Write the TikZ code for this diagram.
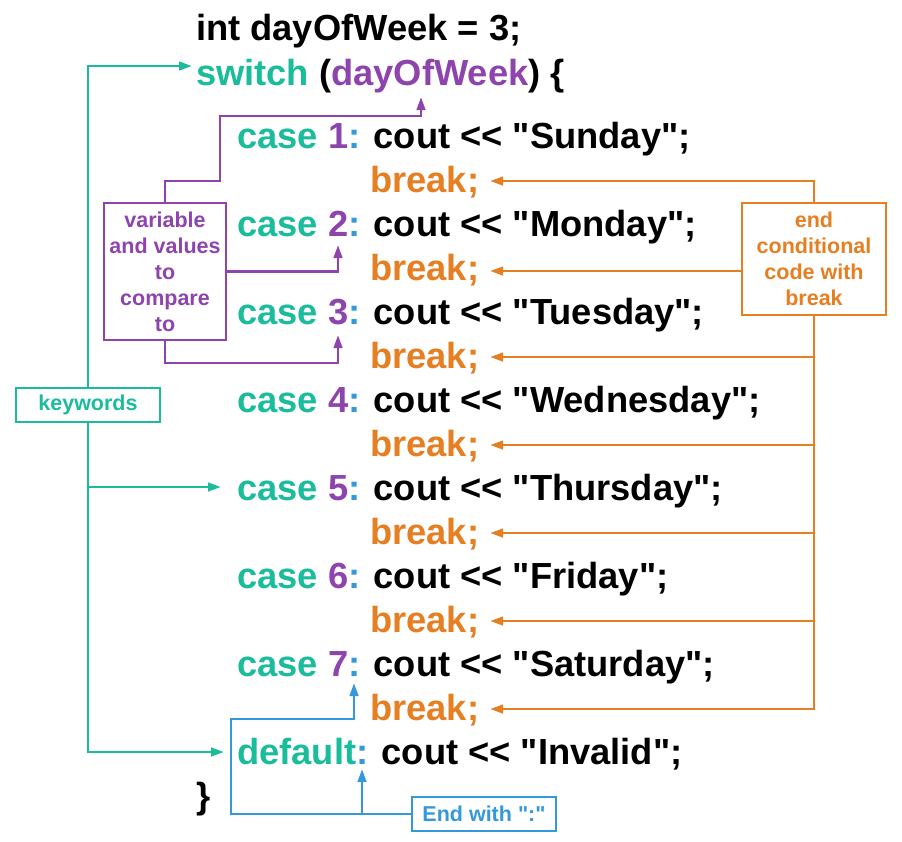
\documentclass[tikz,border=0pt]{standalone}
\usepackage{fontspec}
\newfontfamily\cf{Liberation Sans}
\usetikzlibrary{arrows.meta}
\definecolor{kw}{HTML}{1ABC9C}
\definecolor{vr}{HTML}{8E44AD}
\definecolor{cl}{HTML}{3498DB}
\definecolor{br}{HTML}{E67E22}
\newcommand\cs[2]{\textcolor{kw}{case} \textcolor{vr}{#1}\textcolor{cl}{:} cout << "#2";}
\begin{document}
\begin{tikzpicture}[x=1pt,y=-1pt,
  code/.style={anchor=base west,inner sep=0pt,font=\cf\fontsize{36.3}{40}\selectfont\bfseries},
  lab/.style={draw,line width=2.7pt,align=center,inner sep=0pt,font=\cf\fontsize{21.5}{26}\selectfont\bfseries},
  conn/.style={line width=2.7pt,-{Triangle[length=13pt,width=8.5pt]}}]
\useasboundingbox (0,0) rectangle (902,841);
% code lines
\node[code] (l0) at (196,40) {int dayOfWeek = 3;};
\node[code] (l1) at (196,85) {\textcolor{kw}{switch} (\textcolor{vr}{dayOfWeek}) \{};
\node[code] (c1) at (237,148) {\cs{1}{Sunday}};
\node[code,text=br] (b1) at (370,192) {break;};
\node[code] (c2) at (237,236) {\cs{2}{Monday}};
\node[code,text=br] (b2) at (370,280) {break;};
\node[code] (c3) at (237,324) {\cs{3}{Tuesday}};
\node[code,text=br] (b3) at (370,368) {break;};
\node[code] (c4) at (237,412) {\cs{4}{Wednesday}};
\node[code,text=br] (b4) at (370,456) {break;};
\node[code] (c5) at (237,500) {\cs{5}{Thursday}};
\node[code,text=br] (b5) at (370,544) {break;};
\node[code] (c6) at (237,588) {\cs{6}{Friday}};
\node[code,text=br] (b6) at (370,632) {break;};
\node[code] (c7) at (237,676) {\cs{7}{Saturday}};
\node[code,text=br] (b7) at (370,720) {break;};
\node[code] (df) at (237,764) {\textcolor{kw}{default}\textcolor{cl}{:} cout << "Invalid";};
\node[code] (cb) at (196,808) {\}};
% label boxes
\node[lab,draw=kw,text=kw,minimum width=144pt,minimum height=34pt] (kwbox) at (88,405) {keywords};
\node[lab,draw=vr,text=vr,minimum width=122pt,minimum height=137pt] (vbox) at (165,271.5) {variable\\and values\\to\\compare\\to};
\node[lab,draw=br,text=br,minimum width=144pt,minimum height=112pt] (obox) at (814,259) {end\\conditional\\code with\\break};
\node[lab,draw=cl,text=cl,minimum width=144pt,minimum height=34pt] (ebox) at (484,814) {End with ":"};
% target coordinates
\coordinate (tsw) at (192,66);
\coordinate (tc5) at (221,487);
\coordinate (tdf) at (224,752);
\coordinate (tvar) at (421,97);
\coordinate (t2) at (338,245);
\coordinate (t3) at (338,335);
\coordinate (tc7) at (354,683);
\coordinate (tdc) at (362,769);
\coordinate (ejoin) at (362,814);
\foreach \i/\y in {1/181,2/271,3/357,4/445,5/533,6/621,7/709} \coordinate (tb\i) at (490,\y);
% teal connectors
\draw[conn,kw] (kwbox.north) |- (tsw);
\draw[conn,kw] (kwbox.south) |- (tc5);
\draw[conn,kw] (kwbox.south) |- (tdf);
% purple connectors
\draw[conn,vr] (vbox.north) |- (220,181) |- (421,116) -- (tvar);
\draw[conn,vr] (vbox.east) -| (t2);
\draw[conn,vr] (vbox.south) |- (338,363) -- (t3);
% orange connectors
\draw[conn,br] (obox.north) |- (tb1);
\draw[conn,br] (obox.west |- tb2) -- (tb2);
\foreach \i in {3,...,7} \draw[conn,br] (obox.south) |- (tb\i);
% blue connectors
\draw[conn,cl] (ebox.west) -- (231,814) |- (354,719) -- (tc7);
\draw[conn,cl] (ejoin) -- (tdc);
\end{tikzpicture}
\end{document}
